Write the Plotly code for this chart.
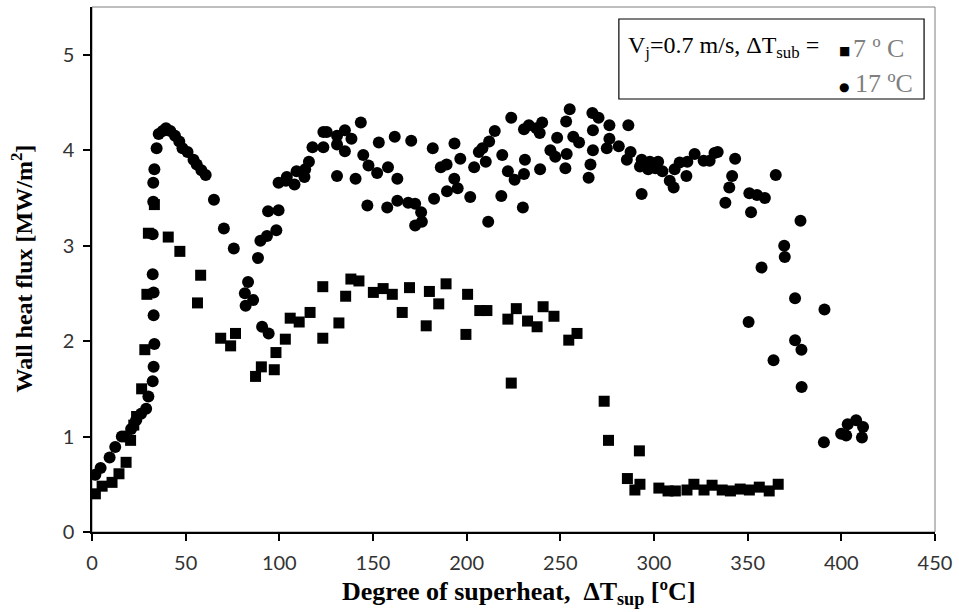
import plotly.graph_objects as go

# ---- data ----
sq_x = [1.8, 5.4, 10.7, 14.4, 18.2, 20.6, 22.3, 23.8, 26.5, 28.2, 29.3, 30.1, 33.3, 40.7, 46.9,
        56.3, 58.0, 68.7, 74.0, 76.6, 87.3, 90.4, 97.3, 98.2, 103.2, 105.8, 110.6, 116.4,
        123.2, 123.2, 131.8, 135.4, 138.2, 142.5, 150.2, 155.4, 160.3, 165.6, 169.5, 178.4,
        180.1, 185.1, 189.0, 199.6, 200.5, 207.0, 210.8, 222.0, 223.8, 226.5, 232.5, 237.6,
        240.8, 246.6, 254.5, 258.9, 273.4, 275.7, 285.8, 289.8, 292.2, 292.5, 302.6, 307.5,
        311.4, 317.6, 321.3, 326.7, 331.0, 336.4, 340.8, 346.0, 350.9, 356.2, 361.5, 366.3]
sq_y = [0.40, 0.48, 0.52, 0.61, 0.73, 0.96, 1.12, 1.21, 1.50, 1.91, 2.49, 3.13, 3.43, 3.09, 2.94,
        2.40, 2.69, 2.03, 1.95, 2.08, 1.63, 1.73, 1.70, 1.88, 2.02, 2.24, 2.20, 2.30,
        2.57, 2.03, 2.19, 2.47, 2.65, 2.63, 2.51, 2.55, 2.49, 2.30, 2.56, 2.16,
        2.52, 2.39, 2.60, 2.07, 2.49, 2.32, 2.32, 2.23, 1.56, 2.34, 2.21, 2.15,
        2.36, 2.26, 2.01, 2.08, 1.37, 0.96, 0.56, 0.44, 0.85, 0.50, 0.46, 0.43,
        0.43, 0.44, 0.50, 0.44, 0.49, 0.44, 0.43, 0.45, 0.44, 0.47, 0.43, 0.50]

ci_x = [1.8, 4.6, 9.4, 12.4, 15.9, 17.4, 20.9, 23.5, 26.2, 28.9, 30.1, 32.4, 32.9, 33.3, 32.9,
        32.9, 32.4, 32.4, 32.7, 32.7, 33.3, 34.5, 35.6, 37.7, 39.5, 41.8, 44.3, 46.6, 48.3,
        51.0, 54.2, 55.9, 58.4, 60.7, 65.1, 70.4, 75.7, 81.6, 82.0, 83.3, 86.0, 88.6, 89.9,
        90.8, 93.4, 94.0, 94.3, 98.4, 99.6, 99.6, 103.5, 104.0, 108.1, 109.2, 113.4, 113.8,
        115.8, 117.7, 123.5, 123.5, 125.3, 130.8, 130.8, 130.8, 135.0, 135.0, 138.5, 140.7,
        143.5, 144.8, 147.0, 147.6, 152.2, 153.1, 157.6, 158.0, 161.6, 163.0, 163.0, 168.8,
        170.4, 172.5, 172.5, 175.7, 176.1, 181.9, 182.6, 186.2, 189.3, 189.5, 193.5, 193.4,
        195.2, 196.6, 201.9, 204.0, 206.5, 208.4, 210.2, 211.5, 212.0, 215.0, 218.5, 219.0,
        222.0, 223.8, 225.6, 230.0, 230.6, 231.1, 230.6, 233.2, 237.2, 239.0, 240.3, 239.2,
        244.7, 247.3, 248.3, 252.7, 253.4, 253.1, 255.0, 256.9, 260.0, 265.1, 266.1, 267.4,
        267.4, 267.1, 270.4, 276.2, 276.2, 274.8, 281.2, 286.3, 285.5, 287.5, 292.5, 293.4,
        293.4, 296.9, 297.8, 300.8, 302.2, 304.5, 308.4, 310.5, 311.0, 313.7, 317.3, 317.8,
        321.7, 326.5, 329.7, 332.3, 334.0, 338.1, 340.2, 341.7, 343.3, 350.5, 350.9, 351.8,
        355.0, 357.4, 359.2, 363.8, 365.0, 369.5, 369.8, 375.3, 375.3, 378.2, 378.7, 378.8,
        390.7, 391.0, 399.9, 402.6, 403.4, 407.9, 411.6, 411.0]
ci_y = [0.60, 0.67, 0.78, 0.89, 1.00, 1.00, 1.08, 1.17, 1.24, 1.29, 1.42, 1.58, 1.73, 1.97, 2.27,
        2.51, 2.70, 3.12, 3.46, 3.66, 3.80, 4.02, 4.17, 4.20, 4.23, 4.20, 4.15, 4.09, 4.02,
        3.98, 3.90, 3.85, 3.79, 3.74, 3.48, 3.18, 2.97, 2.50, 2.37, 2.62, 2.43, 2.87, 3.05,
        2.15, 3.10, 3.36, 2.08, 3.16, 3.37, 3.66, 3.68, 3.72, 3.64, 3.78, 3.72, 3.80,
        3.88, 4.03, 4.03, 4.19, 4.19, 4.15, 4.06, 3.73, 4.21, 3.99, 4.12, 3.70,
        4.29, 3.95, 3.42, 3.84, 3.76, 4.08, 3.40, 3.82, 4.14, 3.70, 3.47, 3.45,
        4.10, 3.44, 3.21, 3.35, 3.25, 4.02, 3.49, 3.82, 3.85, 3.57, 4.07, 3.70,
        3.60, 3.91, 3.51, 3.82, 3.98, 4.02, 3.88, 3.25, 4.09, 4.20, 3.52, 3.95,
        3.78, 4.34, 3.69, 3.40, 3.75, 3.90, 4.22, 4.26, 4.23, 4.18, 4.29, 3.80,
        4.00, 3.93, 4.13, 3.81, 3.96, 4.30, 4.43, 4.14, 4.08, 3.71, 3.85, 4.00,
        4.21, 4.39, 4.34, 4.26, 4.12, 4.02, 4.04, 4.26, 3.90, 3.98, 3.83, 3.90,
        3.54, 3.80, 3.88, 3.81, 3.88, 3.78, 3.68, 3.61, 3.80, 3.87, 3.73, 3.88,
        3.96, 3.89, 3.89, 3.97, 3.98, 3.45, 3.61, 3.73, 3.91, 2.20, 3.55, 3.35,
        3.53, 2.77, 3.50, 1.80, 3.74, 3.00, 2.88, 2.45, 2.01, 3.26, 1.91, 1.52,
        0.94, 2.33, 1.03, 1.01, 1.13, 1.17, 1.10, 0.99]

x_ticks = [0, 50, 100, 150, 200, 250, 300, 350, 400, 450]
y_ticks = [0, 1, 2, 3, 4, 5]

series_names = ["7 º C", "17 ºC"]

fig = go.Figure()
fig.add_trace(go.Scatter(x=sq_x, y=sq_y, mode="markers", name=series_names[0],
                         marker=dict(symbol="square", size=11, color="black"),
                         showlegend=False))
fig.add_trace(go.Scatter(x=ci_x, y=ci_y, mode="markers", name=series_names[1],
                         marker=dict(symbol="circle", size=12, color="black"),
                         showlegend=False))

W, H = 959, 612
L, R, T, B = 92, 19, 7, 80
pw, ph = W - L - R, H - T - B


def px(xp):
    return (xp - L) / pw


def py(yp):
    return (H - B - yp) / ph


tick_font = dict(family="Lato", size=20, color="#333333")
serif = "Liberation Serif"

fig.update_layout(
    width=W, height=H,
    margin=dict(l=L, r=R, t=T, b=B),
    plot_bgcolor="white", paper_bgcolor="white",
    xaxis=dict(range=[0, 450], tickvals=x_ticks, ticktext=[str(v) for v in x_ticks],
               ticks="outside", ticklen=7, tickwidth=1.5, tickcolor="black",
               showline=True, linecolor="black", linewidth=1.5, ticklabelstandoff=5,
               showgrid=False, zeroline=False, tickfont=tick_font),
    yaxis=dict(range=[0, 5.5], tickvals=y_ticks, ticktext=[str(v) for v in y_ticks],
               ticks="outside", ticklen=7, tickwidth=1.5, tickcolor="black",
               showline=True, linecolor="black", linewidth=1.5, ticklabelstandoff=5,
               showgrid=False, zeroline=False, tickfont=tick_font),
    showlegend=False,
)

# plot-area frame (thin grey on top/right)
fig.add_shape(type="rect", xref="paper", yref="paper", x0=0, x1=1, y0=0, y1=1,
              line=dict(color="#7f7f7f", width=1), layer="below")

# legend box
fig.add_shape(type="rect", xref="paper", yref="paper",
              x0=px(622), x1=px(929), y0=py(99), y1=py(19),
              line=dict(color="black", width=1.2), fillcolor="white")

annos = []
# axis titles
annos.append(dict(text="<b>Degree of superheat,\u00a0 ΔT<sub>sup</sub> [ºC]</b>", xref="paper", yref="paper",
                  x=px(522), y=py(593), xanchor="center", yanchor="middle", showarrow=False,
                  font=dict(family=serif, size=26, color="black")))
annos.append(dict(text="<b>Wall heat flux [MW/m<sup>2</sup>]</b>", xref="paper", yref="paper",
                  x=px(22), y=py(268), xanchor="center", yanchor="middle", showarrow=False,
                  textangle=-90, font=dict(family=serif, size=24, color="black")))
# legend content
annos.append(dict(text="V<sub>j</sub>=0.7 m/s, ΔT<sub>sub</sub> =", xref="paper", yref="paper",
                  x=px(629), y=py(47), xanchor="left", yanchor="middle", showarrow=False,
                  font=dict(family=serif, size=24, color="black")))
annos.append(dict(text="■", xref="paper", yref="paper", x=px(849), y=py(51),
                  xanchor="center", yanchor="middle", showarrow=False,
                  font=dict(family="DejaVu Sans", size=12, color="black")))
annos.append(dict(text=series_names[0], xref="paper", yref="paper", x=px(856), y=py(48),
                  xanchor="left", yanchor="middle", showarrow=False,
                  font=dict(family=serif, size=26, color="#7f7f7f")))
annos.append(dict(text="●", xref="paper", yref="paper", x=px(848), y=py(87),
                  xanchor="center", yanchor="middle", showarrow=False,
                  font=dict(family="DejaVu Sans", size=12, color="black")))
annos.append(dict(text=series_names[1], xref="paper", yref="paper", x=px(858), y=py(84),
                  xanchor="left", yanchor="middle", showarrow=False,
                  font=dict(family=serif, size=26, color="#7f7f7f")))
fig.update_layout(annotations=annos)

fig.write_html("out.html", config={"displayModeBar": False},
               post_script="document.body.style.margin='0';")
